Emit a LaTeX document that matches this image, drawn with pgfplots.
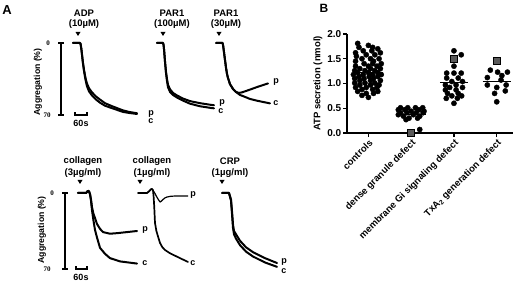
\documentclass[border=0pt]{standalone}
\usepackage{fontspec}
\setmainfont{Liberation Sans}
\newfontfamily\serifb{Liberation Serif}
\usepackage{pgfplots}
\pgfplotsset{compat=1.18}
\newcommand{\fs}[1]{\fontsize{#1}{#1}\selectfont}
\pgfplotsset{
  trace/.style={hide axis, scale only axis, clip=false, xmin=0, xmax=300, ymin=0, ymax=70,
    y dir=reverse, anchor=north west, width=60pt},
  tr/.style={black, line width=2pt, line join=round, line cap=round, mark=none},
}
\begin{document}
\begin{tikzpicture}
\path[use as bounding box] (0pt,0pt) rectangle (520pt,-283pt);

% ---------------- Panel A, top row ----------------
\begin{axis}[trace, height=72pt, at={(73pt,-43pt)}]
% ADP c
\addplot[tr] coordinates {(0,0)(35,0)(38,1)(42,6)(46,13)(50,20)(55,27)(60,33)(65,38)(70,42)(80,47)(95,51)(115,55)(135,58)(160,61)(190,63)(220,65)(250,67)(280,68)(320,69)};
% ADP p
\addplot[tr] coordinates {(0,0)(35,0)(38,1)(42,6)(46,13)(50,19.5)(55,26)(60,31.5)(65,36)(70,39.5)(80,44)(95,48)(115,52)(135,55)(160,58.5)(190,61)(220,63.3)(250,65.5)(280,67)(320,68.3)};
\end{axis}

\begin{axis}[trace, height=72pt, at={(157pt,-43pt)}]
\addplot[tr] coordinates {(0,0)(30,0)(33,2)(36,8)(40,18)(45,29)(50,37)(55,43)(65,47.5)(80,50.5)(100,53)(130,56)(165,59)(215,61.5)(265,63)(285,63.5)};
\addplot[tr] coordinates {(0,0)(30,0)(33,2)(36,8)(40,18)(45,28)(50,35)(55,40.5)(65,45)(80,48.5)(100,51)(130,54)(165,56.5)(215,58.5)(265,60)(285,60.5)};
\end{axis}

\begin{axis}[trace, height=72pt, at={(216pt,-43pt)}]
% c
\addplot[tr] coordinates {(0,0)(33,0)(36,3)(40,9)(45,16.5)(50,24)(55,30)(60,34)(70,40)(85,44.7)(100,47.6)(120,50.5)(145,52.4)(170,54.4)(210,56.3)(270,58.7)};
% p
\addplot[tr] coordinates {(0,0)(33,0)(36,3)(40,9)(45,16.5)(50,24)(55,30)(60,34)(70,40)(85,44.7)(100,47.6)(115,48.5)(130,48)(145,47)(170,45.3)(210,42.5)(260,39.3)};
\end{axis}

% ---------------- Panel A, bottom row ----------------
\begin{axis}[trace, height=76pt, at={(78pt,-193pt)}]
% p
\addplot[tr] coordinates {(0,0)(40,0)(45,-1)(50,-2)(55,-1.5)(60,1)(65,6)(70,13)(77,19)(85,23)(95,28.5)(110,33)(125,36)(160,37.5)(195,37)(245,36)(295,35)};
% c
\addplot[tr] coordinates {(0,0)(40,0)(45,-1)(50,-2)(55,-1.5)(60,1)(65,7)(70,16)(77,25)(85,34)(95,41)(110,50.5)(135,56)(160,60)(210,63)(295,65)};
\end{axis}

\begin{axis}[trace, height=76pt, at={(138pt,-193pt)}]
% p
\addplot[black, line width=1.2pt, line join=round] coordinates {(0,0)(45,0)(55,-1.5)(65,-3.5)(70,-3.7)(75,-2.5)(80,-1)(85,0.5)(92,3)(100,5.5)(110,8.3)(117,7.5)(125,6)(135,4.5)(145,3.7)(165,3)(185,2.8)(250,2.8)};
% c
\addplot[tr, line width=1.7pt] coordinates {(0,0)(45,0)(55,-1.5)(65,-3.5)(70,-3.7)(75,-2.5)(78,3)(81,12)(85,27.6)(92,35)(100,40)(110,46)(122,50)(135,52.5)(160,55.5)(210,60)(250,63.5)};
\end{axis}

\begin{axis}[trace, height=76pt, at={(222pt,-193pt)}]
\addplot[tr] coordinates {(0,0)(35,0)(45,6)(50,17)(55,29)(60,35)(70,38)(90,44)(120,50)(155,54.5)(215,60)(275,64.5)};
\addplot[tr] coordinates {(0,0)(35,0)(45,7)(50,19)(55,32)(60,38)(70,42)(90,48)(120,54)(155,58.5)(215,64)(275,68)};
\end{axis}

% ---------------- Panel B ----------------
\begin{axis}[at={(347pt,-133pt)}, anchor=south west, scale only axis,
  width=166pt, height=99pt, xmin=-0.5, xmax=3.38, ymin=0, ymax=2, clip=false,
  axis x line=bottom, axis y line=left, axis line style={-, line width=1.2pt},
  tick style={black, line width=1.2pt}, tick align=outside, major tick length=4pt,
  xtick={0,1,2,3},
  xticklabels={controls, dense granule defect, membrane Gi signaling defect, TxA\textsubscript{2} generation defect},
  xticklabel style={rotate=45, anchor=north east, font=\bfseries\fs{9.5}, inner sep=1pt},
  ytick={0,0.5,1,1.5,2}, yticklabels={0.0,0.5,1.0,1.5,2.0},
  yticklabel style={font=\bfseries\fs{10}, inner sep=1.5pt},
  ylabel={ATP secretion (nmol)}, ylabel style={font=\bfseries\fs{9.5}},
]
% controls
\addplot[only marks, mark=*, mark size=2.6pt, black] coordinates {
(-0.25,1.81)(0.0,1.77)(-0.22,1.73)(0.1,1.73)(0.22,1.70)(-0.12,1.66)(0.08,1.66)
(-0.3,1.62)(0.28,1.62)(-0.05,1.58)(0.15,1.58)(-0.28,1.55)
(-0.15,1.50)(0.05,1.50)(0.25,1.50)(-0.3,1.45)(0.12,1.45)
(-0.1,1.40)(0.1,1.40)(0.3,1.40)(-0.3,1.35)(0.0,1.35)(0.2,1.35)
(-0.2,1.30)(0.05,1.30)(0.28,1.30)(-0.32,1.26)(-0.08,1.26)(0.15,1.26)
(-0.25,1.22)(0.0,1.22)(0.22,1.22)(-0.35,1.18)(-0.12,1.18)(0.1,1.18)(0.3,1.18)
(-0.22,1.14)(0.02,1.14)(0.22,1.14)(-0.32,1.10)(-0.1,1.10)(0.12,1.10)
(-0.2,1.06)(0.05,1.06)(0.28,1.06)(-0.32,1.01)(-0.08,1.01)(0.15,1.01)
(-0.2,0.97)(0.05,0.97)(0.25,0.97)(-0.3,0.92)(-0.05,0.92)(0.2,0.92)
(-0.15,0.88)(0.1,0.88)(-0.25,0.84)(0.22,0.84)(-0.05,0.80)(0.12,0.80)
(-0.15,0.76)(0.0,0.72)};
% dense granule defect
\addplot[only marks, mark=*, mark size=2.6pt, black] coordinates {
(0.75,0.51)(0.92,0.51)(1.1,0.51)(1.27,0.51)(0.7,0.47)(0.85,0.47)(1.18,0.47)
(1.0,0.44)(1.3,0.44)(0.75,0.41)(0.9,0.41)(1.12,0.41)(1.28,0.41)
(0.7,0.37)(1.05,0.37)(0.82,0.34)(1.2,0.34)(0.95,0.30)(1.15,0.30)(0.88,0.27)
(1.2,0.07)};
% membrane Gi signaling defect
\addplot[only marks, mark=*, mark size=2.6pt, black] coordinates {
(2.0,1.66)(2.17,1.58)(2.0,1.35)(1.83,1.21)(2.0,1.21)(2.17,1.21)
(1.83,1.11)(2.1,1.11)(1.95,1.04)(2.2,1.04)(1.8,0.97)(2.05,0.97)
(1.9,0.92)(2.2,0.92)(1.8,0.87)(2.05,0.87)(1.85,0.80)(2.1,0.80)
(1.95,0.75)(2.18,0.75)(1.82,0.70)(2.08,0.70)(2.0,0.60)};
% TxA2 generation defect
\addplot[only marks, mark=*, mark size=2.6pt, black] coordinates {
(2.85,1.27)(3.02,1.23)(3.25,1.23)(3.12,1.16)(2.78,1.12)(3.1,1.07)
(2.78,0.97)(3.22,0.97)(3.0,0.92)(3.2,0.85)(2.95,0.80)(3.0,0.63)};
% patients (squares)
\addplot[only marks, mark=square*, mark size=3.4pt, mark options={fill=black!65, draw=black, line width=1.1pt}] coordinates {(1,0.0)(2,1.49)(3,1.45)};
% means
\addplot[black, line width=1pt] coordinates {(-0.33,1.22)(0.33,1.22)};
\addplot[black, line width=1pt] coordinates {(0.67,0.37)(1.35,0.37)};
\addplot[black, line width=1pt] coordinates {(1.67,1.03)(2.33,1.03)};
\addplot[black, line width=1pt] coordinates {(2.67,1.05)(3.33,1.05)};
\end{axis}

% ---------------- Annotations ----------------
\begin{scope}[x=1pt, y=-1pt]
\node[font=\bfseries\fs{13}] at (7,10) {A};
\node[font=\bfseries\fs{12}] at (324,8) {B};
\begin{scope}[every node/.style={font=\bfseries\fs{9.5}, inner sep=0pt}]
\node at (84,13) {ADP};      \node at (84,24) {(10µM)};
\node at (172,13) {PAR1};    \node at (172,24) {(100µM)};
\node at (226,13) {PAR1};    \node at (226,24) {(30µM)};
\node at (83,161) {collagen}; \node at (83,173) {(3µg/ml)};
\node at (152,161) {collagen}; \node at (152,173) {(1µg/ml)};
\node at (230,161) {CRP};     \node at (230,173) {(1µg/ml)};
\end{scope}
% injection triangles
\fill (75.5,32) -- (80.5,32) -- (78,36) -- cycle;
\fill (160.5,32) -- (165.5,32) -- (163,36) -- cycle;
\fill (216.5,32) -- (221.5,32) -- (219,36) -- cycle;
\fill (77.5,180) -- (82.5,180) -- (80,184) -- cycle;
\fill (137.5,180) -- (142.5,180) -- (140,184) -- cycle;
\fill (219.5,180) -- (224.5,180) -- (222,184) -- cycle;
% scale bars: 0-70 % aggregation and 60 s
\draw[line width=1.2pt] (61,43) -- (61,115) (58,43) -- (64,43) (58,115) -- (64,115);
\draw[line width=1.1pt] (75,112.5) -- (75,115) -- (87,115) -- (87,112.5);
\draw[line width=1.2pt] (65,193) -- (65,269) (62,193) -- (68,193) (62,269) -- (68,269);
\draw[line width=1.1pt] (76,266.5) -- (76,269) -- (87,269) -- (87,266.5);
% axis labels of panel A
\node[rotate=90, font=\bfseries\fs{8.7}] at (38,82) {Aggregation (\%)};
\node[rotate=90, font=\bfseries\fs{8.7}] at (42,230) {Aggregation (\%)};
\node[font=\serifb\bfseries\fs{7}] at (48,43) {0};
\node[font=\serifb\bfseries\fs{7}] at (47,115) {70};
\node[font=\serifb\bfseries\fs{7}] at (52,193) {0};
\node[font=\serifb\bfseries\fs{7}] at (47,269) {70};
\node[font=\bfseries\fs{9}] at (81,123) {60s};
\node[font=\bfseries\fs{9}] at (81,277) {60s};
% p / c labels
\begin{scope}[every node/.style={font=\bfseries\fs{9}, inner sep=0pt}]
\node at (151,114) {p}; \node at (151,121) {c};
\node at (222,103) {p}; \node at (221,111) {c};
\node at (276,82) {p};  \node at (276,103) {c};
\node at (145,230) {p}; \node at (145,263) {c};
\node at (193,195) {p}; \node at (193,263) {c};
\node at (284,262) {p}; \node at (284,271) {c};
\end{scope}
\end{scope}
\end{tikzpicture}
\end{document}
